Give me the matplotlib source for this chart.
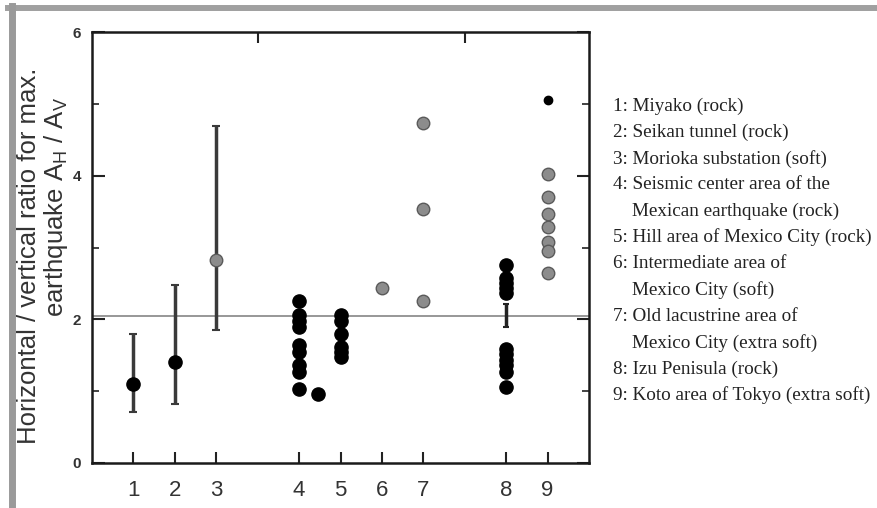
import matplotlib
matplotlib.use("Agg")
import matplotlib.pyplot as plt
from matplotlib.lines import Line2D

plt.rcParams['font.family'] = ['Liberation Sans', 'DejaVu Sans']

# site numbers and where they sit on the x axis
site_labels = ['1', '2', '3', '4', '5', '6', '7', '8', '9']
site_x = [1, 2, 3, 5, 6, 7, 8, 10, 11]

# sites 1-3: mean with range bars
bar_x = [1, 2, 3]
bar_mean = [1.10, 1.41, 2.83]
bar_low = [0.71, 0.82, 1.85]
bar_high = [1.80, 2.48, 4.69]
bar_color = ['black', 'black', 'gray']

# black dots (rock sites)
site4_y = [2.25, 2.06, 1.97, 1.90, 1.64, 1.55, 1.36, 1.27, 1.03]
site4_extra_x = 5.45
site4_extra_y = 0.96
site5_y = [2.06, 1.97, 1.80, 1.62, 1.55, 1.48]
site8_y = [2.76, 2.58, 2.50, 2.43, 2.36, 1.59, 1.52, 1.43, 1.36, 1.27, 1.06]
site8_small_y = 2.05
site8_small_err = 0.16

# gray dots (soft sites)
site6_y = [2.43]
site7_y = [4.74, 3.53, 2.26]
site9_y = [4.02, 3.70, 3.46, 3.28, 3.07, 2.95, 2.65]
site9_black_y = 5.05

ref_level = 2.05

legend_lines = [
    "1: Miyako (rock)",
    "2: Seikan tunnel (rock)",
    "3: Morioka substation (soft)",
    "4: Seismic center area of the",
    "    Mexican earthquake (rock)",
    "5: Hill area of Mexico City (rock)",
    "6: Intermediate area of",
    "    Mexico City (soft)",
    "7: Old lacustrine area of",
    "    Mexico City (extra soft)",
    "8: Izu Penisula (rock)",
    "9: Koto area of Tokyo (extra soft)",
]

fig = plt.figure(figsize=(8.78, 5.08), dpi=100)
ax = fig.add_axes([92 / 878, 1 - 463 / 508, 497 / 878, 431 / 508])

blk = dict(marker='o', color='black', markersize=9.5, linestyle='none')
gry = dict(marker='o', markerfacecolor='#8c8c8c', markeredgecolor='#5a5a5a',
           markeredgewidth=1.0, markersize=9, linestyle='none')

ax.axhline(ref_level, color='#7a7a7a', lw=1.1, zorder=1)

for x, m, lo, hi, c in zip(bar_x, bar_mean, bar_low, bar_high, bar_color):
    ax.errorbar(x, m, yerr=[[m - lo], [hi - m]], fmt='none', ecolor='#3a3a3a',
                elinewidth=2.5, capsize=3, capthick=1.5, zorder=2)
    if c == 'black':
        ax.plot(x, m, zorder=3, **blk)
    else:
        ax.plot(x, m, zorder=3, **gry)

ax.plot([site_x[3]] * len(site4_y), site4_y, **blk)
ax.plot(site4_extra_x, site4_extra_y, **blk)
ax.plot([site_x[4]] * len(site5_y), site5_y, **blk)
ax.plot([site_x[7]] * len(site8_y), site8_y, **blk)
ax.errorbar(site_x[7], site8_small_y, yerr=site8_small_err, fmt='none',
            ecolor='#222222', elinewidth=2.5, capsize=2.5, capthick=1.5)
ax.plot([site_x[5]] * len(site6_y), site6_y, **gry)
ax.plot([site_x[6]] * len(site7_y), site7_y, **gry)
ax.plot([site_x[8]] * len(site9_y), site9_y, **gry)
ax.plot(site_x[8], site9_black_y, marker='o', color='black', markersize=6)

ax.set_xlim(0, 12)
ax.set_ylim(0, 6)

ax.set_xticks(site_x, labels=site_labels)
ax.set_xticks(range(1, 12), minor=True)
ax.tick_params(axis='x', which='major', direction='in', length=8, width=1.5,
               bottom=True, top=False, labelsize=16, labelcolor='#333333', pad=12,
               color='#222222')
ax.tick_params(axis='x', which='minor', direction='in', length=8, width=1.5,
               bottom=False, top=True, color='#222222')

ax.set_yticks([0, 2, 4, 6])
ax.set_yticks([1, 3, 5], minor=True)
ax.tick_params(axis='y', which='major', direction='in', length=9, width=1.5,
               left=True, right=True, labelsize=11, pad=8, color='#222222')
ax.tick_params(axis='y', which='minor', direction='in', length=5, width=1.2,
               left=True, right=True, color='#222222')
for t in ax.get_yticklabels():
    t.set_fontweight('bold')
    t.set_color('#333333')

for s in ax.spines.values():
    s.set_linewidth(1.8)
    s.set_color('#1a1a1a')

fig.text(29 / 878, 1 - 256 / 508, "Horizontal / vertical ratio for max.",
         rotation=90, ha='center', va='center', fontsize=18.5, color='#333333')
fig.text(56 / 878, 1 - 207 / 508, r"earthquake $\mathregular{A_H}$ / $\mathregular{A_V}$",
         rotation=90, ha='center', va='center', fontsize=18.5, color='#333333')

# site list on the right
y0 = 1 - 106 / 508
step = 26.3 / 508
for i, line in enumerate(legend_lines):
    fig.text(613 / 878, y0 - i * step, line, ha='left', va='center',
             fontsize=13.8, family='Liberation Serif', color='#222222')

# outer frame remnants
fig.add_artist(Line2D([8 / 878, 1], [1 - 8 / 508, 1 - 8 / 508],
                      transform=fig.transFigure, color='#a0a0a0', lw=4.3))
fig.add_artist(Line2D([11.5 / 878, 11.5 / 878], [0, 1 - 6 / 508],
                      transform=fig.transFigure, color='#9a9a9a', lw=5))

fig.savefig('out.png', dpi=100)
